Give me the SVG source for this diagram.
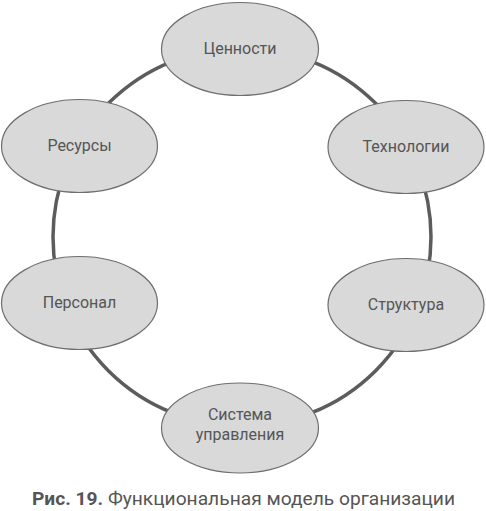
<svg xmlns="http://www.w3.org/2000/svg" width="486" height="511" viewBox="0 0 486 511">
<style>
.node ellipse{fill:#d9d9d9;stroke:#6e6e6e;stroke-width:1.2}
.node text{font-family:Roboto,"Open Sans","Liberation Sans",sans-serif;font-size:16px;fill:#555;text-anchor:middle}
.cap{font-family:Roboto,"Open Sans","Liberation Sans",sans-serif;font-size:19px;fill:#555}
</style>
<rect width="486" height="511" fill="#fff"/>
<g id="connectors">
<circle cx="242" cy="237" r="189" fill="none" stroke="#5c5c5c" stroke-width="3.5"/>
</g>
<g id="n-values" class="node"><ellipse cx="240" cy="49" rx="78.5" ry="46.5"/><text x="240" y="54">Ценности</text></g>
<g id="n-tech" class="node"><ellipse cx="406" cy="147" rx="78" ry="46.5"/><text x="406" y="152">Технологии</text></g>
<g id="n-struct" class="node"><ellipse cx="406" cy="305" rx="78" ry="46.5"/><text x="406" y="310">Структура</text></g>
<g id="n-mgmt" class="node"><ellipse cx="240" cy="428" rx="78.5" ry="45"/><text x="240" y="420">Система</text><text x="240" y="440">управления</text></g>
<g id="n-staff" class="node"><ellipse cx="79.5" cy="303" rx="78" ry="46.5"/><text x="79.5" y="308">Персонал</text></g>
<g id="n-res" class="node"><ellipse cx="79.5" cy="146" rx="78" ry="46.5"/><text x="79.5" y="151">Ресурсы</text></g>
<text class="cap" x="32" y="505" textLength="423" lengthAdjust="spacingAndGlyphs"><tspan font-weight="bold">Рис. 19.</tspan> Функциональная модель организации</text>
</svg>
